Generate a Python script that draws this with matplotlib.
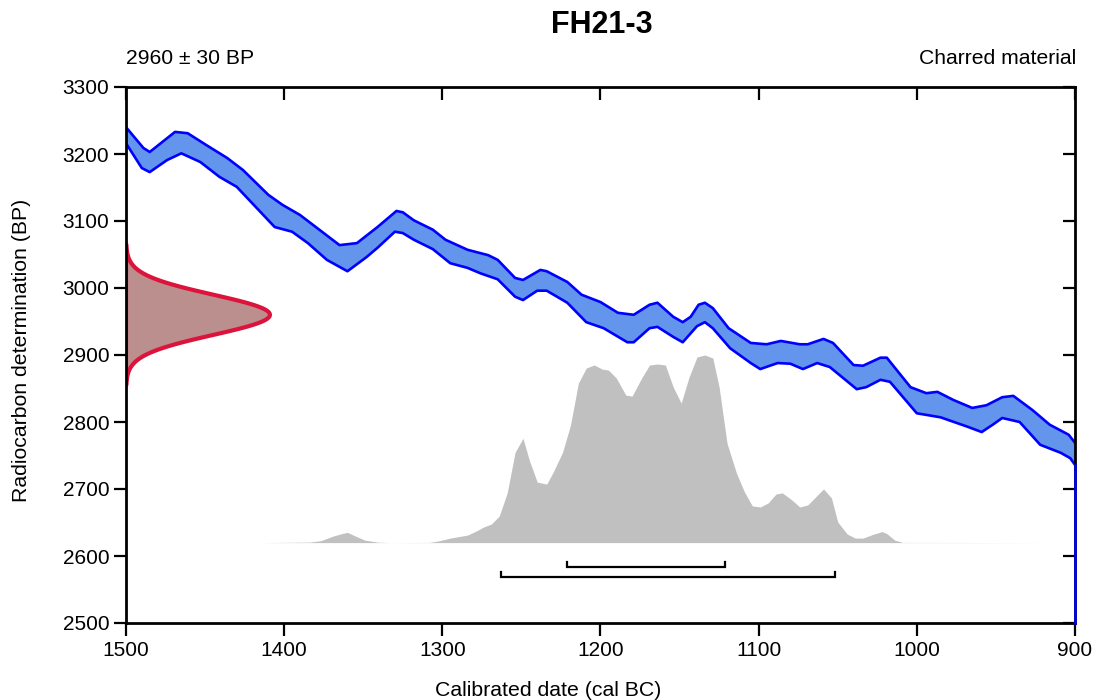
import matplotlib
matplotlib.use("Agg")
import matplotlib.pyplot as plt
import numpy as np

plt.rcParams['font.family'] = ['Liberation Sans', 'DejaVu Sans']

# ---- data ----
title = "FH21-3"
measurement_label = "2960 \u00b1 30 BP"
material_label = "Charred material"
c14_mean = 2960
c14_sigma = 30

# calibration curve band (upper / lower edges), cal BC vs BP
curve_upper_years = [1500, 1489, 1485, 1469, 1461, 1449, 1436, 1426, 1410, 1401,
                     1390, 1365, 1354, 1341, 1329, 1325, 1318, 1306, 1298, 1284,
                     1271, 1265, 1254, 1249, 1238, 1234, 1221, 1212, 1200, 1189,
                     1179, 1169, 1164, 1154, 1148, 1143, 1138, 1134, 1129, 1119,
                     1105, 1095, 1086, 1074, 1069, 1059, 1053, 1040, 1034, 1023,
                     1019, 1004, 994, 987, 977, 965, 956, 946, 939, 927,
                     916, 904, 900]
curve_upper_bp = [3240, 3209, 3203, 3233, 3231, 3213, 3194, 3176, 3139, 3124,
                  3109, 3064, 3067, 3091, 3115, 3113, 3101, 3087, 3072, 3057,
                  3049, 3042, 3015, 3012, 3027, 3025, 3009, 2990, 2979, 2963,
                  2960, 2975, 2978, 2957, 2949, 2957, 2975, 2978, 2970, 2940,
                  2918, 2916, 2921, 2916, 2916, 2924, 2918, 2885, 2884, 2896,
                  2896, 2852, 2843, 2845, 2833, 2821, 2825, 2837, 2839, 2818,
                  2796, 2781, 2769]
curve_lower_years = [1500, 1490, 1485, 1474, 1465, 1453, 1441, 1430, 1406, 1395,
                     1385, 1373, 1360, 1348, 1341, 1330, 1325, 1318, 1306, 1295,
                     1284, 1276, 1265, 1254, 1249, 1240, 1234, 1221, 1209, 1198,
                     1183, 1179, 1169, 1164, 1154, 1148, 1139, 1134, 1129, 1118,
                     1105, 1099, 1088, 1080, 1072, 1063, 1055, 1038, 1032, 1023,
                     1017, 1000, 985, 968, 959, 952, 946, 935, 922, 909,
                     903, 900]
curve_lower_bp = [3216, 3179, 3173, 3191, 3201, 3188, 3166, 3151, 3091, 3084,
                  3067, 3042, 3025, 3046, 3060, 3084, 3082, 3072, 3058, 3037,
                  3030, 3022, 3013, 2987, 2982, 2996, 2996, 2978, 2949, 2940,
                  2919, 2919, 2940, 2942, 2927, 2919, 2943, 2949, 2940, 2910,
                  2888, 2879, 2888, 2887, 2879, 2888, 2882, 2849, 2852, 2863,
                  2860, 2813, 2807, 2793, 2785, 2796, 2806, 2800, 2766, 2754,
                  2746, 2736]

# calibrated probability distribution (relative units)
prob_years = [1414, 1384, 1377, 1369, 1363, 1360, 1354, 1349, 1341, 1333,
              1308, 1302, 1295, 1284, 1278, 1274, 1269, 1264, 1259, 1254,
              1249, 1245, 1240, 1234, 1230, 1224, 1219, 1214, 1209, 1204,
              1199, 1195, 1190, 1184, 1180, 1174, 1169, 1164, 1159, 1154,
              1149, 1144, 1139, 1134, 1129, 1125, 1120, 1114, 1109, 1104,
              1099, 1094, 1089, 1085, 1079, 1074, 1069, 1064, 1059, 1054,
              1050, 1044, 1039, 1034, 1028, 1022, 1019, 1014, 1009, 916]
prob_values = [0, 0.7, 2.7, 9.7, 13.7, 15.2, 8.7, 3.7, 0.7, 0,
               0.3, 2.7, 6.7, 11.2, 17.9, 23.1, 27.6, 39.6, 73.9, 134.3,
               155.2, 122.4, 90, 87, 104.5, 134.3, 174.6, 237.3, 259.7, 264.2,
               258.2, 256.7, 244.8, 219.4, 218, 244.8, 264.2, 265.7, 264.2, 231.3,
               207.5, 246.3, 276.1, 279.1, 274.6, 231.3, 147.8, 103, 75.4, 54.5,
               53, 59, 72.4, 73.9, 63.4, 53, 56, 67.9, 79.9, 66.4,
               30.6, 12.7, 6.7, 6.7, 12.0, 16.4, 13.4, 3.7, 0.3, 0]

# highest posterior density ranges (cal BC)
range_68 = [1221, 1121]
range_95 = [1263, 1052]

x_ticks = [1500, 1400, 1300, 1200, 1100, 1000, 900]
y_ticks = [2500, 2600, 2700, 2800, 2900, 3000, 3100, 3200, 3300]

# ---- plot ----
fig = plt.figure(figsize=(10.97, 7.0), dpi=100)
ax = fig.add_axes([126 / 1097, 1 - 623 / 700, (1075 - 126) / 1097, (623 - 87) / 700])
ax.set_xlim(1500, 900)
ax.set_ylim(2500, 3300)

# calibrated distribution
prob_base = 2620
prob_scale = 280 / max(prob_values)
py = [prob_base + v * prob_scale for v in prob_values]
ax.fill_between(prob_years, prob_base, py, color='#c0c0c0', linewidth=0, zorder=1)

# calibration curve band
poly_x = list(curve_upper_years) + list(curve_lower_years[::-1])
poly_y = list(curve_upper_bp) + list(curve_lower_bp[::-1])
ax.fill(poly_x, poly_y, facecolor='#6495ed', edgecolor='none', zorder=2)
ax.plot(curve_upper_years, curve_upper_bp, color='#0000ff', lw=1.9, zorder=3,
        solid_joinstyle='round')
ax.plot(curve_lower_years, curve_lower_bp, color='#0000ff', lw=1.9, zorder=3,
        solid_joinstyle='round')
ax.plot([curve_lower_years[-1], curve_lower_years[-1]], [curve_lower_bp[-1], 2500],
        color='#0000ff', lw=1.8, zorder=7, clip_on=False)

# measurement distribution
yy = np.linspace(c14_mean - 3.5 * c14_sigma, c14_mean + 3.5 * c14_sigma, 200)
amp = 91
xx = 1500 - amp * np.exp(-0.5 * ((yy - c14_mean) / c14_sigma) ** 2)
gx = np.concatenate([[1500], xx, [1500]])
gy = np.concatenate([[yy[0]], yy, [yy[-1]]])
ax.fill(gx, gy, facecolor='#bc8f8f', edgecolor='#dc143c', lw=3.0, zorder=4,
        joinstyle='round')

# ranges
def bracket(r, y, h=7):
    ax.plot([r[0], r[0], r[1], r[1]], [y + h, y, y, y + h], color='black', lw=1.6,
            zorder=5, solid_joinstyle='miter')

bracket(range_68, 2584)
bracket(range_95, 2569)

# axes styling
for s in ax.spines.values():
    s.set_linewidth(2.0)
    s.set_zorder(6)
ax.set_xticks(x_ticks)
ax.set_yticks(y_ticks)
ax.tick_params(axis='both', which='major', labelsize=15, width=1.6, length=9,
               direction='out')
ax.tick_params(axis='x', top=True, pad=4)
ax.tick_params(axis='y', right=True, pad=3)
for t in ax.xaxis.get_major_ticks():
    t.tick2line.set_marker(3)  # top ticks pointing down (inward)
for t in ax.yaxis.get_major_ticks():
    t.tick2line.set_marker(0)  # right ticks pointing left (inward)

fig.text(548 / 1097, 1 - 690 / 700, "Calibrated date (cal BC)", ha='center',
         va='center', fontsize=15.3)
fig.text(22 / 1097, 0.5, "Radiocarbon determination (BP)", ha='center',
         va='center', rotation=90, fontsize=15.3)
fig.text(602 / 1097, 1 - 25 / 700, title, ha='center', va='center', fontsize=22,
         fontweight='bold')
fig.text(126 / 1097, 1 - 59 / 700, measurement_label, ha='left', va='center',
         fontsize=15.2)
fig.text(1076 / 1097, 1 - 59 / 700, material_label, ha='right', va='center',
         fontsize=15.2)

fig.savefig("out.png", dpi=100)
